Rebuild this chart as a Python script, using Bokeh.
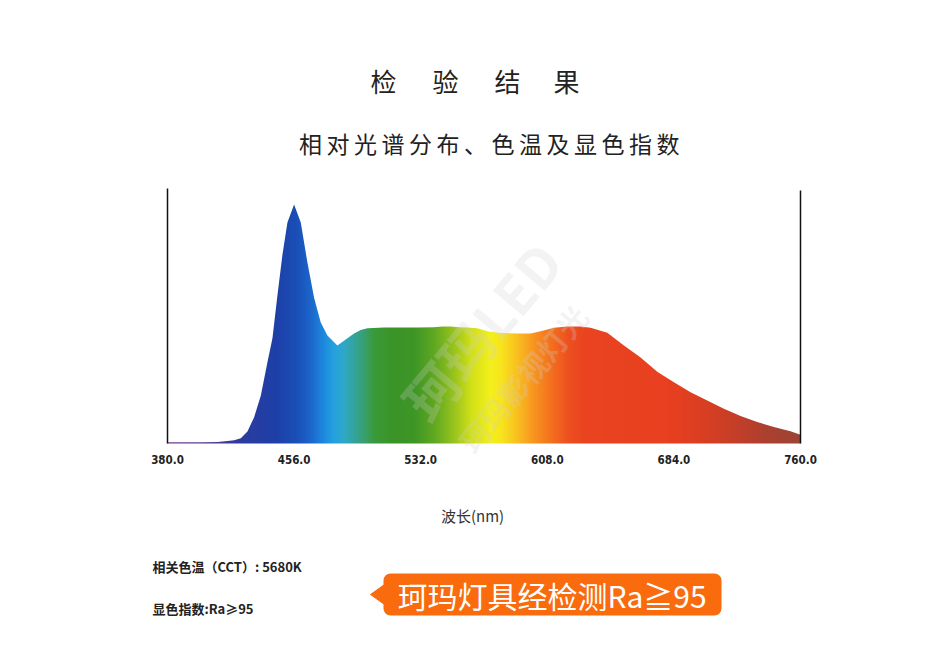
import numpy as np
from bokeh.plotting import figure
from bokeh.models import Range1d, BoxAnnotation
from bokeh.core.properties import value
from bokeh.embed import file_html
from bokeh.resources import INLINE

# ---------------- data ----------------
wavelength = [380, 390, 400, 410, 416, 420, 424, 428, 432, 436, 440, 443, 446, 449, 452,
              456, 460, 464, 468, 472, 476, 482, 488, 492, 496, 500, 510, 520, 530, 540,
              545, 550, 555, 560, 566, 572, 580, 590, 598, 604, 612, 620, 628, 634, 644,
              654, 664, 674, 684, 694, 704, 714, 724, 734, 744, 754, 760]
intensity = [0.005, 0.005, 0.005, 0.006, 0.010, 0.014, 0.022, 0.050, 0.11, 0.20, 0.34, 0.44, 0.62, 0.79, 0.925,
             1.00, 0.925, 0.757, 0.61, 0.506, 0.452, 0.41, 0.44, 0.46, 0.475, 0.482, 0.485, 0.485, 0.485, 0.486,
             0.49, 0.49, 0.486, 0.485, 0.482, 0.47, 0.462, 0.46, 0.46, 0.47, 0.484, 0.49, 0.49, 0.484, 0.463,
             0.41, 0.36, 0.30, 0.256, 0.214, 0.18, 0.145, 0.115, 0.09, 0.069, 0.051, 0.037]
tick_values = [380, 456, 532, 608, 684, 760]
tick_labels = ["380.0", "456.0", "532.0", "608.0", "684.0", "760.0"]

title_chars = ["检", "验", "结", "果"]
subtitle = "相对光谱分布、色温及显色指数"
cct_text = "相关色温（CCT）: 5680K"
ra_text = "显色指数:Ra≥95"
callout_text = "珂玛灯具经检测Ra≧95"
axis_label = "波长(nm)"

# spectral colour style (wavelength stop -> colour)
stop_nm = [380, 410, 425, 445, 458, 466, 474, 480, 486, 492, 498, 504, 515, 528, 540, 552,
           562, 574, 580, 590, 600, 610, 620, 630, 680, 700, 720, 740, 760]
stop_hex = ["#7a3a8a", "#4a3a9c", "#2c3c9e", "#1e40a8", "#1a50b8", "#1c66cc", "#1e8ade",
            "#26a2e0", "#30a8c8", "#34a49c", "#38a070", "#3a9a3a", "#3a9428", "#3e9626",
            "#60a822", "#98c41e", "#d0e018", "#f4f01c", "#f8e61e", "#f8c020", "#f89420",
            "#f4721e", "#ee5220", "#ea4420", "#e84020", "#dc3e22", "#c63e28", "#ac4030", "#9a4636"]

# ---------------- layout helpers (page pixel -> data) ----------------
def X(px):
    return 380 + (px - 167) * 380 / 633

def Y(py):
    return (443 - py) / 239

W, H = 945, 645
p = figure(width=W, height=H, x_range=Range1d(X(0), X(W)), y_range=Range1d(Y(H), Y(0)),
           output_backend="svg", toolbar_location=None, x_axis_type=None, y_axis_type=None,
           min_border=0)
p.outline_line_color = None
p.background_fill_color = "white"
p.border_fill_color = "white"

# gradient image of spectrum colours
M = 760
centers = 380 + (np.arange(M) + 0.5) * 380 / M
rgb = np.array([[int(h[1:3], 16), int(h[3:5], 16), int(h[5:7], 16)] for h in stop_hex], dtype=float)
img = np.empty((1, M), dtype=np.uint32)
view = img.view(dtype=np.uint8).reshape((1, M, 4))
for c in range(3):
    view[0, :, c] = np.interp(centers, stop_nm, rgb[:, c]).astype(np.uint8)
view[0, :, 3] = 255
p.image_rgba(image=[img], x=380, y=0, dw=380, dh=1.02)

# mask above the spectrum curve
p.varea(x=wavelength, y1=intensity, y2=[1.1] * len(wavelength), fill_color="white", fill_alpha=1.0)

# watermark
p.text(x=[X(480)], y=[Y(330)], text=["珂玛LED"], angle=0.87, text_font=value("Noto Sans CJK SC"),
       text_font_style="bold", text_font_size=value("54px"), text_color="#d0d0d0", text_alpha=0.25,
       text_align="center", text_baseline="middle")
p.text(x=[X(522)], y=[Y(378)], text=["珂玛影视灯光"], angle=0.87, text_font=value("Noto Sans CJK SC"),
       text_font_style="bold", text_font_size=value("30px"), text_color="#d0d0d0", text_alpha=0.25,
       text_align="center", text_baseline="middle")

# vertical frame lines
p.segment(x0=[380, 760], y0=[0, 0], x1=[380, 760], y1=[Y(188), Y(190)], line_color="#111111", line_width=1.5)

# tick labels
p.text(x=tick_values, y=[Y(459)] * len(tick_values), text=tick_labels,
       text_font=value("DejaVu Sans Condensed, Liberation Sans, sans-serif"), text_font_style="bold",
       text_font_size=value("11.5px"), text_color="#222222", text_align="center", text_baseline="middle")

# axis label
p.text(x=[X(472)], y=[Y(515)], text=[axis_label], text_font=value("Noto Sans CJK SC"),
       text_font_size=value("15px"), text_color="#333333", text_align="center", text_baseline="middle")

# title (spaced characters)
title_px = [383, 445, 507, 566]
p.text(x=[X(v) for v in title_px], y=[Y(80)] * 4, text=title_chars, text_font=value("Noto Sans CJK SC"),
       text_font_size=value("26px"), text_color="#222222", text_align="center", text_baseline="middle")

# subtitle (spaced characters)
sub_chars = list(subtitle)
sub_px = [310 + i * 27.5 for i in range(len(sub_chars))]
p.text(x=[X(v) for v in sub_px], y=[Y(142)] * len(sub_chars), text=sub_chars,
       text_font=value("Noto Sans CJK SC"), text_font_size=value("23px"), text_color="#222222",
       text_align="center", text_baseline="middle")

# bottom notes
p.text(x=[X(152), X(152)], y=[Y(566), Y(608)], text=[cct_text, ra_text],
       text_font=value("Noto Sans CJK SC"), text_font_size=value("13px"), text_font_style="bold",
       text_color="#222222", text_align="left", text_baseline="middle")

# orange callout
orange = "#f96b0c"
box = BoxAnnotation(left=X(383), right=X(721), top=Y(573), bottom=Y(615), fill_color=orange,
                    fill_alpha=1.0, line_alpha=0, border_radius=7, level="underlay")
p.add_layout(box)
p.patch(x=[X(370), X(384), X(384)], y=[Y(594), Y(584), Y(604)], fill_color=orange, line_color=orange)
p.text(x=[X(397)], y=[Y(594)], text=[callout_text], text_font=value("Noto Sans CJK SC"),
       text_font_size=value("30px"), text_color="white", text_align="left", text_baseline="middle")

open("out.html", "w").write(file_html(p, INLINE))
